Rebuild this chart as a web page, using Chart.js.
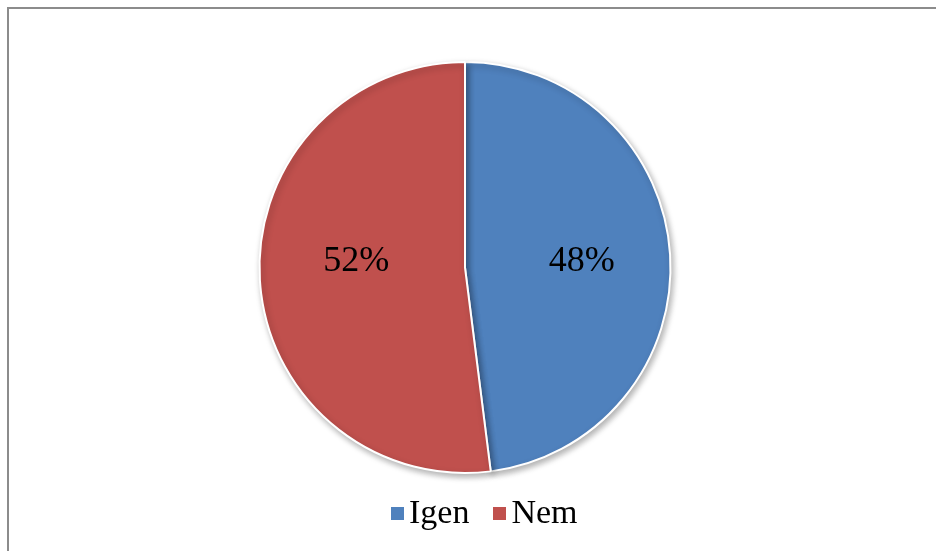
<!DOCTYPE html>
<html>
<head>
<meta charset="utf-8">
<script src="https://cdn.jsdelivr.net/npm/chart.js@4/dist/chart.umd.min.js"></script>
<style>
  html, body { margin: 0; padding: 0; background: #fff; }
  #wrap { position: relative; width: 936px; height: 551px; overflow: hidden; }
  #frame { position: absolute; left: 7px; top: 7px; width: 1000px; height: 1000px;
           border-left: 2px solid #8c8c8c; border-top: 2px solid #8c8c8c; box-sizing: border-box; }
  canvas { position: absolute; left: 0; top: 0; }
  #legend { position: absolute; left: 391px; top: 495px; display: flex; align-items: baseline;
            font-family: "Liberation Serif", "Times New Roman", serif; font-size: 34px; line-height: 34px;
            color: #000; white-space: nowrap; }
  .item { display: flex; align-items: baseline; margin-right: 24px; }
  .box { display: inline-block; width: 13px; height: 13px; margin-right: 5px; position: relative; top: -3px; }
</style>
</head>
<body>
<div id="wrap">
  <div id="frame"></div>
  <canvas id="c" width="936" height="551"></canvas>
  <div id="legend"></div>
</div>
<script>
const categories = ["Igen", "Nem"];
const values = [48, 52];
const valueLabels = ["48%", "52%"];
const colors = ["#4F81BD", "#C0504D"];

const shadowPlugin = {
  id: 'shadow',
  beforeDatasetsDraw(chart) {
    const ctx = chart.ctx;
    ctx.save();
    ctx.shadowColor = 'rgba(0,0,0,0.3)';
    ctx.shadowBlur = 6;
    ctx.shadowOffsetX = 2;
    ctx.shadowOffsetY = 3;
  },
  afterDatasetsDraw(chart) {
    chart.ctx.restore();
  }
};

const labelPlugin = {
  id: 'sliceLabels',
  afterDatasetsDraw(chart) {
    const ctx = chart.ctx;
    const meta = chart.getDatasetMeta(0);
    ctx.save();
    ctx.fillStyle = '#000';
    ctx.font = '36px "Liberation Serif", "Times New Roman", serif';
    ctx.textAlign = 'center';
    ctx.textBaseline = 'middle';
    meta.data.forEach((arc, i) => {
      const p = arc.getProps(['x', 'y', 'startAngle', 'endAngle', 'outerRadius'], true);
      const mid = (p.startAngle + p.endAngle) / 2;
      const d = p.outerRadius * 0.55;
      ctx.fillText(valueLabels[i], p.x + Math.cos(mid) * d + 4, p.y - 6);
    });
    ctx.restore();
  }
};

const chart = new Chart(document.getElementById('c'), {
  type: 'pie',
  data: {
    labels: categories,
    datasets: [{
      data: values,
      backgroundColor: colors,
      borderColor: '#ffffff',
      borderWidth: 2,
      hoverOffset: 0
    }]
  },
  options: {
    responsive: false,
    animation: false,
    layout: { padding: { top: 61, bottom: 77, left: 0, right: 6 } },
    plugins: {
      tooltip: { enabled: false },
      legend: { display: false }
    }
  },
  plugins: [shadowPlugin, labelPlugin]
});

// HTML legend built from the chart's own labels and colours
const legendEl = document.getElementById('legend');
chart.data.labels.forEach((lab, i) => {
  const item = document.createElement('span');
  item.className = 'item';
  const box = document.createElement('span');
  box.className = 'box';
  box.style.background = chart.data.datasets[0].backgroundColor[i];
  const txt = document.createElement('span');
  txt.textContent = lab;
  item.appendChild(box);
  item.appendChild(txt);
  legendEl.appendChild(item);
});
</script>
</body>
</html>
